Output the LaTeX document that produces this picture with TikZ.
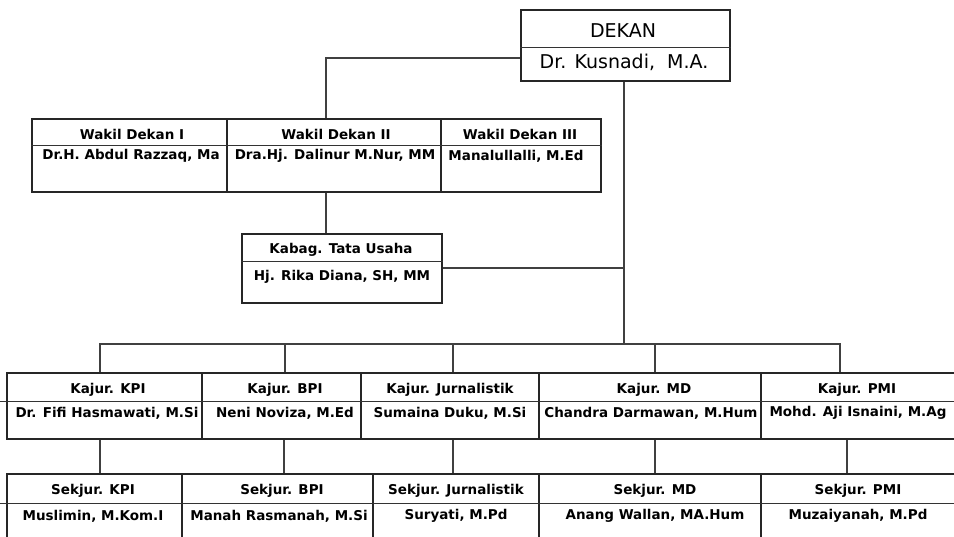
\documentclass[tikz,border=0pt]{standalone}
\usepackage{fontspec}
\setmainfont{DejaVu Sans}
\usetikzlibrary{fit}
\tikzset{
  cell/.style={draw=black!85, line width=1.1pt, inner sep=0pt, rectangle},
  divline/.style={draw=black!80, line width=1pt},
  conn/.style={draw=black!75, line width=1.1pt},
  ttl/.style={inner sep=0pt, font=\bfseries\fontsize{13.5}{14}\selectfont},
  big/.style={inner sep=0pt, font=\fontsize{19}{20}\selectfont},
}
\begin{document}
\begin{tikzpicture}[x=1pt,y=-1pt]
\useasboundingbox (0,0) rectangle (954,537);
\clip (0,0) rectangle (954,537);
% ---- DEKAN
\node[cell, fit={(521,10) (730,81)}] (dekan) {};
\draw[divline] (dekan.west |- 0,48) -- (dekan.east |- 0,48);
\node[big] (dekan-t) at (623,31) {DEKAN};
\node[big] (dekan-p) at (624,62) {Dr. Kusnadi,\ \ M.A.};
% ---- Wakil row
\node[cell, fit={(32,119) (227,192)}] (w1) {};
\node[cell, fit={(227,119) (441,192)}] (w2) {};
\node[cell, fit={(441,119) (601,192)}] (w3) {};
\draw[divline] (w1.west |- 0,146) -- (w3.east |- 0,146);
\node[ttl] (w1-t) at (132,134) {Wakil Dekan I};
\node[ttl] (w1-p) at (131,156) {Dr.H. Abdul Razzaq, Ma};
\node[ttl] (w2-t) at (336,134) {Wakil Dekan II};
\node[ttl] (w2-p) at (335,156) {Dra.Hj. Dalinur M.Nur, MM};
\node[ttl] (w3-t) at (520,134) {Wakil Dekan III};
\node[ttl] (w3-p) at (516,156) {Manalullalli, M.Ed};
% ---- Kabag
\node[cell, fit={(242,234) (442,303)}] (kabag) {};
\draw[divline] (kabag.west |- 0,262) -- (kabag.east |- 0,262);
\node[ttl] (kabag-t) at (341,250) {Kabag. Tata Usaha};
\node[ttl] (kabag-p) at (342,277) {Hj. Rika Diana, SH, MM};
% ---- Kajur row
\node[cell, fit={(7,373) (202,439)}] (kj1) {};
\node[cell, fit={(202,373) (361,439)}] (kj2) {};
\node[cell, fit={(361,373) (539,439)}] (kj3) {};
\node[cell, fit={(539,373) (761,439)}] (kj4) {};
\node[cell, fit={(761,373) (962,439)}] (kj5) {};
\draw[divline] (0,402) -- (kj5.east |- 0,402);
\node[ttl] (kj1-t) at (108,390) {Kajur. KPI};
\node[ttl] (kj1-p) at (107,413) {Dr. Fifi Hasmawati, M.Si};
\node[ttl] (kj2-t) at (285,390) {Kajur. BPI};
\node[ttl] (kj2-p) at (285,413) {Neni Noviza, M.Ed};
\node[ttl] (kj3-t) at (450,390) {Kajur. Jurnalistik};
\node[ttl] (kj3-p) at (450,413) {Sumaina Duku, M.Si};
\node[ttl] (kj4-t) at (654,390) {Kajur. MD};
\node[ttl] (kj4-p) at (651,413) {Chandra Darmawan, M.Hum};
\node[ttl] (kj5-t) at (857,390) {Kajur. PMI};
\node[ttl] (kj5-p) at (858,413) {Mohd. Aji Isnaini, M.Ag};
% ---- Sekjur row
\node[cell, fit={(7,474) (182,548)}] (sk1) {};
\node[cell, fit={(182,474) (373,548)}] (sk2) {};
\node[cell, fit={(373,474) (539,548)}] (sk3) {};
\node[cell, fit={(539,474) (761,548)}] (sk4) {};
\node[cell, fit={(761,474) (962,548)}] (sk5) {};
\draw[divline] (0,503) -- (sk5.east |- 0,503);
\node[ttl] (sk1-t) at (93,491) {Sekjur. KPI};
\node[ttl] (sk1-p) at (93,516) {Muslimin, M.Kom.I};
\node[ttl] (sk2-t) at (282,491) {Sekjur. BPI};
\node[ttl] (sk2-p) at (279,516) {Manah Rasmanah, M.Si};
\node[ttl] (sk3-t) at (456,491) {Sekjur. Jurnalistik};
\node[ttl] (sk3-p) at (456,516) {Suryati, M.Pd};
\node[ttl] (sk4-t) at (655,491) {Sekjur. MD};
\node[ttl] (sk4-p) at (655,516) {Anang Wallan, MA.Hum};
\node[ttl] (sk5-t) at (858,491) {Sekjur. PMI};
\node[ttl] (sk5-p) at (858,516) {Muzaiyanah, M.Pd};
% ---- junction coordinates
\coordinate (jw) at (326,58);
\coordinate (jd) at (624,268);
\coordinate (bus) at (624,344);
% ---- connectors
\draw[conn] (dekan.west |- jw) -| (w2.north -| jw);
\draw[conn] (w2.south -| jw) -- (kabag.north -| jw);
\draw[conn] (dekan.south -| bus) -- (bus);
\draw[conn] (kabag.east |- jd) -- (jd);
\draw[conn] (kj1.north -| 100,0) |- (bus) -| (kj5.north -| 840,0);
\draw[conn] (bus -| 285,0) -- (kj2.north -| 285,0);
\draw[conn] (bus -| 453,0) -- (kj3.north -| 453,0);
\draw[conn] (bus -| 655,0) -- (kj4.north -| 655,0);
\draw[conn] (kj1.south -| 100,0) -- (sk1.north -| 100,0);
\draw[conn] (kj2.south -| 284,0) -- (sk2.north -| 284,0);
\draw[conn] (kj3.south -| 453,0) -- (sk3.north -| 453,0);
\draw[conn] (kj4.south -| 655,0) -- (sk4.north -| 655,0);
\draw[conn] (kj5.south -| 847,0) -- (sk5.north -| 847,0);
\end{tikzpicture}
\end{document}
